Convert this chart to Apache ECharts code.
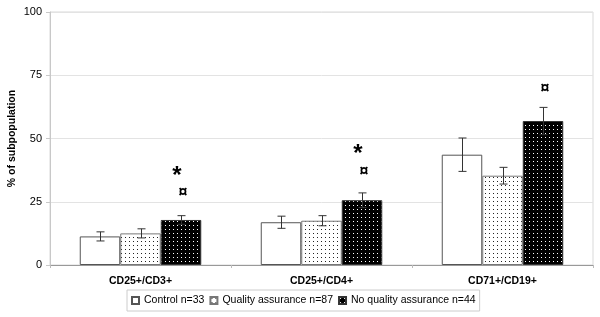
<!DOCTYPE html>
<html>
<head>
<meta charset="utf-8">
<script src="https://cdn.jsdelivr.net/npm/echarts@6/dist/echarts.min.js"></script>
<style>
  html, body { margin: 0; padding: 0; background: #fff; }
  #chart { width: 600px; height: 317px; }
</style>
</head>
<body>
<div id="chart"></div>
<script>
const categories = ['CD25+/CD3+', 'CD25+/CD4+', 'CD71+/CD19+'];
const seriesNames = ['Control n=33', 'Quality assurance n=87', 'No quality assurance n=44'];
const control = [11.3, 16.9, 43.6];
const qa = [12.5, 17.5, 35.3];
const noQa = [17.8, 25.6, 56.9];
const controlErr = [1.8, 2.4, 6.6];
const qaErr = [1.8, 2.0, 3.3];
const noQaErr = [1.7, 2.9, 5.4];
// significance marks above the third bar
const starMarks = [36.9, 45.8, null];
const curMarks = [28.9, 37.5, 70.0];
const yTicks = [0, 25, 50, 75, 100];

function dots(bg, fg, step) {
  const c = document.createElement('canvas');
  c.width = step; c.height = step;
  const ctx = c.getContext('2d');
  ctx.fillStyle = bg;
  ctx.fillRect(0, 0, step, step);
  ctx.fillStyle = fg;
  ctx.fillRect(1, 1, 1, 1);
  return { image: c, repeat: 'repeat' };
}

const fills = ['#ffffff', dots('#ffffff', '#222222', 4), dots('#000000', '#ffffff', 4)];
const borders = ['#555', '#777', '#333'];
const values = [control, qa, noQa];
const errs = [controlErr, qaErr, noQaErr];

const chart = echarts.init(document.getElementById('chart'));

const barW = 40.5;
const barSeries = values.map((v, i) => ({
  name: seriesNames[i],
  type: 'bar',
  data: v,
  barWidth: barW,
  barGap: '0%',
  itemStyle: { color: fills[i], borderColor: borders[i], borderWidth: 1 },
  z: 2
}));

const errSeries = values.map((v, i) => ({
  type: 'custom',
  data: v.map((val, k) => [k, val, errs[i][k]]),
  z: 3,
  silent: true,
  renderItem: function (params, api) {
    const k = api.value(0);
    const off = (i - 1) * barW;
    const top = api.coord([k, api.value(1) + api.value(2)]);
    const bot = api.coord([k, api.value(1) - api.value(2)]);
    const x = Math.round(top[0] + off) + 0.5;
    const col = '#333';
    return {
      type: 'group',
      children: [
        { type: 'line', shape: { x1: x, y1: top[1], x2: x, y2: bot[1] }, style: { stroke: col, lineWidth: 1 } },
        { type: 'line', shape: { x1: x - 4, y1: top[1], x2: x + 4, y2: top[1] }, style: { stroke: col, lineWidth: 1 } },
        { type: 'line', shape: { x1: x - 4, y1: bot[1], x2: x + 4, y2: bot[1] }, style: { stroke: col, lineWidth: 1 } }
      ]
    };
  }
}));

// dy compensates for where the glyph sits inside its text box
function markSeries(arr, text, size, dx, dy) {
  return {
    type: 'custom',
    silent: true,
    z: 4,
    data: arr.map((v, k) => v == null ? null : [k, v]).filter(d => d),
    renderItem: function (params, api) {
      const p = api.coord([api.value(0), api.value(1)]);
      return {
        type: 'text',
        x: p[0] + barW + dx,
        y: p[1] + dy,
        style: { text: text, fontSize: size, fontWeight: 'bold', fontFamily: 'Arial', fill: '#000', align: 'center', verticalAlign: 'middle' }
      };
    }
  };
}

chart.setOption({
  animation: false,
  grid: {
    left: 50, right: 7, top: 12, bottom: 52,
    outerBoundsMode: 'none',
    show: true, borderColor: '#d9d9d9', borderWidth: 1
  },
  legend: {
    bottom: 6,
    left: 127,
    data: seriesNames,
    icon: 'rect',
    itemWidth: 7,
    itemHeight: 7,
    itemGap: 5,
    borderColor: '#cccccc',
    borderWidth: 1,
    padding: [5, 4, 5, 4],
    textStyle: { fontFamily: 'Arial', fontSize: 10.5, color: '#000' }
  },
  xAxis: {
    type: 'category',
    data: categories,
    axisLine: { lineStyle: { color: '#999' } },
    axisTick: { show: true, length: 3, lineStyle: { color: '#bbb' } },
    axisLabel: { fontFamily: 'Arial', fontSize: 10.5, fontWeight: 'bold', color: '#000', margin: 11 }
  },
  yAxis: {
    type: 'value',
    min: yTicks[0],
    max: yTicks[yTicks.length - 1],
    interval: 25,
    name: '% of subpopulation',
    nameLocation: 'middle',
    nameGap: 32,
    nameMoveOverlap: false,
    nameTextStyle: { fontFamily: 'Arial', fontSize: 10.5, fontWeight: 'bold', color: '#000' },
    axisLine: { show: true, lineStyle: { color: '#c8c8c8' } },
    axisTick: { show: true, length: 4, lineStyle: { color: '#c8c8c8' } },
    splitLine: { lineStyle: { color: '#e3e3e3' } },
    axisLabel: { fontFamily: 'Arial', fontSize: 11, color: '#000', margin: 8 }
  },
  series: [
    ...barSeries,
    ...errSeries,
    markSeries(starMarks, '*', 24, -4, 5),
    markSeries(curMarks, '¤', 16, 2, 1)
  ]
});
</script>
</body>
</html>
